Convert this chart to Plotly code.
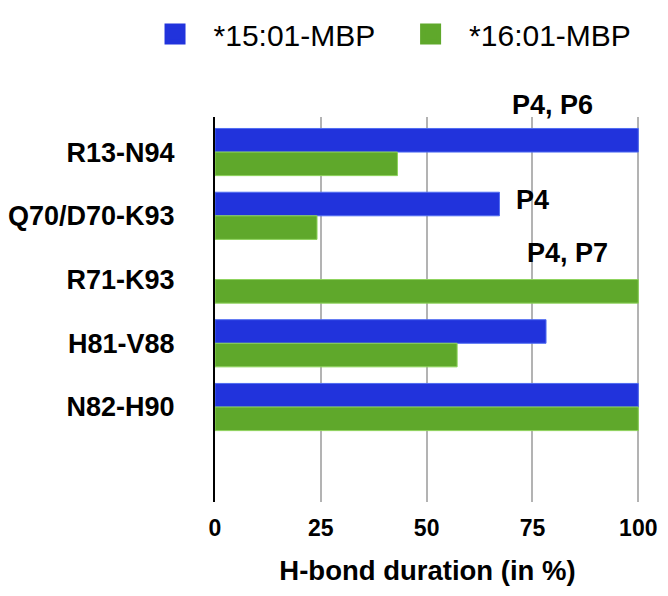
import plotly.graph_objects as go

categories = ["R13-N94", "Q70/D70-K93", "R71-K93", "H81-V88", "N82-H90"]
series_names = ["*15:01-MBP", "*16:01-MBP"]
values_1501 = [100, 67.2, 0, 78.2, 100]
values_1601 = [43.1, 24.1, 100, 57.2, 100]
pocket_labels = ["P4, P6", "P4", "P4, P7"]
pocket_x = [79.8, 75.1, 83.3]
pocket_y = [-0.5, 0.75, 1.59]
pocket_shift = [15, 0, 0]
x_ticks = [0, 25, 50, 75, 100]

BLUE = "#2133dc"
BLUE_EDGE = "#4f6cf2"
GREEN = "#5fa82b"
GREEN_EDGE = "#8ed35c"
FONT = "Liberation Sans, Arial, sans-serif"

pos = list(range(len(categories)))
bw = 0.37

fig = go.Figure()
fig.add_trace(go.Bar(
    y=pos, x=values_1501, orientation="h", width=bw, offset=-bw,
    marker=dict(color=BLUE, line=dict(color=BLUE_EDGE,
                                      width=[0 if v == 0 else 1 for v in values_1501])),
    showlegend=False, name=series_names[0]))
fig.add_trace(go.Bar(
    y=pos, x=values_1601, orientation="h", width=bw, offset=0,
    marker=dict(color=GREEN, line=dict(color=GREEN_EDGE,
                                       width=[0 if v == 0 else 1 for v in values_1601])),
    showlegend=False, name=series_names[1]))

# legend entries
for nm, col, lg in zip(series_names, [BLUE, GREEN], ["legend", "legend2"]):
    fig.add_trace(go.Scatter(
        x=[None], y=[None], mode="markers", name=nm, legend=lg,
        marker=dict(symbol="square", size=16, color=col,
                    line=dict(color=col, width=5))))

for txt, xv, yv, ys in zip(pocket_labels, pocket_x, pocket_y, pocket_shift):
    fig.add_annotation(x=xv, y=yv, xref="x", yref="y", text=txt,
                       showarrow=False, yshift=ys,
                       font=dict(family=FONT, size=27, color="black", weight="bold"))

legend_common = dict(orientation="h", xref="container", yref="container",
                     xanchor="left", yanchor="top",
                     itemwidth=67, itemsizing="trace", bgcolor="rgba(0,0,0,0)",
                     font=dict(family=FONT, size=30, color="black"))

fig.update_layout(
    width=668, height=596,
    margin=dict(l=207, r=36, t=109, b=102, autoexpand=False),
    plot_bgcolor="white", paper_bgcolor="white",
    barmode="overlay",
    font=dict(family=FONT, color="black"),
    legend=dict(x=0.1924, y=1.0, **legend_common),
    legend2=dict(x=0.575, y=1.0, **legend_common),
    xaxis=dict(range=[0, 100.4], tickvals=x_ticks, ticktext=[str(v) for v in x_ticks],
               showgrid=True, gridcolor="#b3b3b3", gridwidth=2,
               zeroline=False, showline=False, ticks="", automargin=False,
               ticklabelstandoff=10,
               tickfont=dict(family=FONT, size=23, color="black", weight="bold"),
               title=dict(text="H-bond duration (in %)", standoff=20,
                          font=dict(family=FONT, size=27.5, color="black", weight="bold"))),
    yaxis=dict(range=[5.49, -0.55], tickvals=pos, ticktext=categories,
               showgrid=False, zeroline=False, showline=True, automargin=False,
               linecolor="black", linewidth=2, ticks="",
               ticklabelstandoff=33,
               tickfont=dict(family=FONT, size=27, color="black", weight="bold")),
)

fig.write_html("out.html")
